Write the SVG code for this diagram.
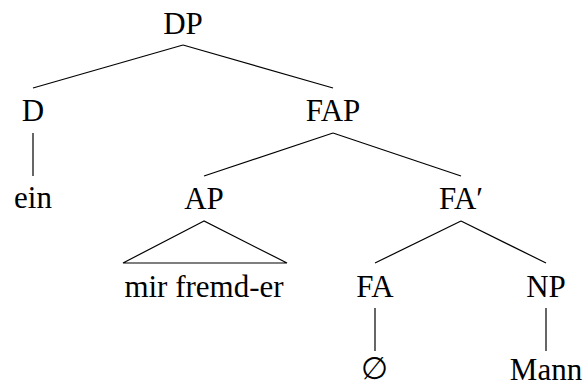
<svg xmlns="http://www.w3.org/2000/svg" width="586" height="387" viewBox="0 0 586 387">
<style>
text{font-family:"Liberation Serif","Times New Roman",serif;font-size:31px;fill:#000;text-anchor:middle}
.e{stroke:#000;stroke-width:1.2;fill:none}
</style>
<rect width="586" height="387" fill="#fff"/>
<g id="connectors">
<line class="e" x1="183" y1="45" x2="33" y2="88"/>
<line class="e" x1="183" y1="45" x2="333" y2="88"/>
<line class="e" x1="33" y1="133" x2="33" y2="176"/>
<line class="e" x1="333" y1="133" x2="204" y2="176"/>
<line class="e" x1="333" y1="133" x2="461" y2="176"/>
<polygon class="e" points="204,221 123,263 287,263"/>
<line class="e" x1="461" y1="221" x2="375" y2="263"/>
<line class="e" x1="461" y1="221" x2="546" y2="263"/>
<line class="e" x1="375" y1="308" x2="375" y2="351"/>
<line class="e" x1="546" y1="308" x2="546" y2="351"/>
</g>
<g id="n-DP"><text x="183" y="34">DP</text></g>
<g id="n-D"><text x="33" y="121">D</text></g>
<g id="n-FAP"><text x="333" y="121">FAP</text></g>
<g id="n-ein"><text x="33" y="208">ein</text></g>
<g id="n-AP"><text x="204" y="209">AP</text></g>
<g id="n-FAbar"><text x="461" y="209">FA′</text></g>
<g id="n-mir"><text x="204" y="297">mir fremd-er</text></g>
<g id="n-FA"><text x="375" y="297">FA</text></g>
<g id="n-NP"><text x="546" y="297">NP</text></g>
<g id="n-empty"><text x="374" y="379">∅</text></g>
<g id="n-Mann"><text x="546" y="380">Mann</text></g>
</svg>
